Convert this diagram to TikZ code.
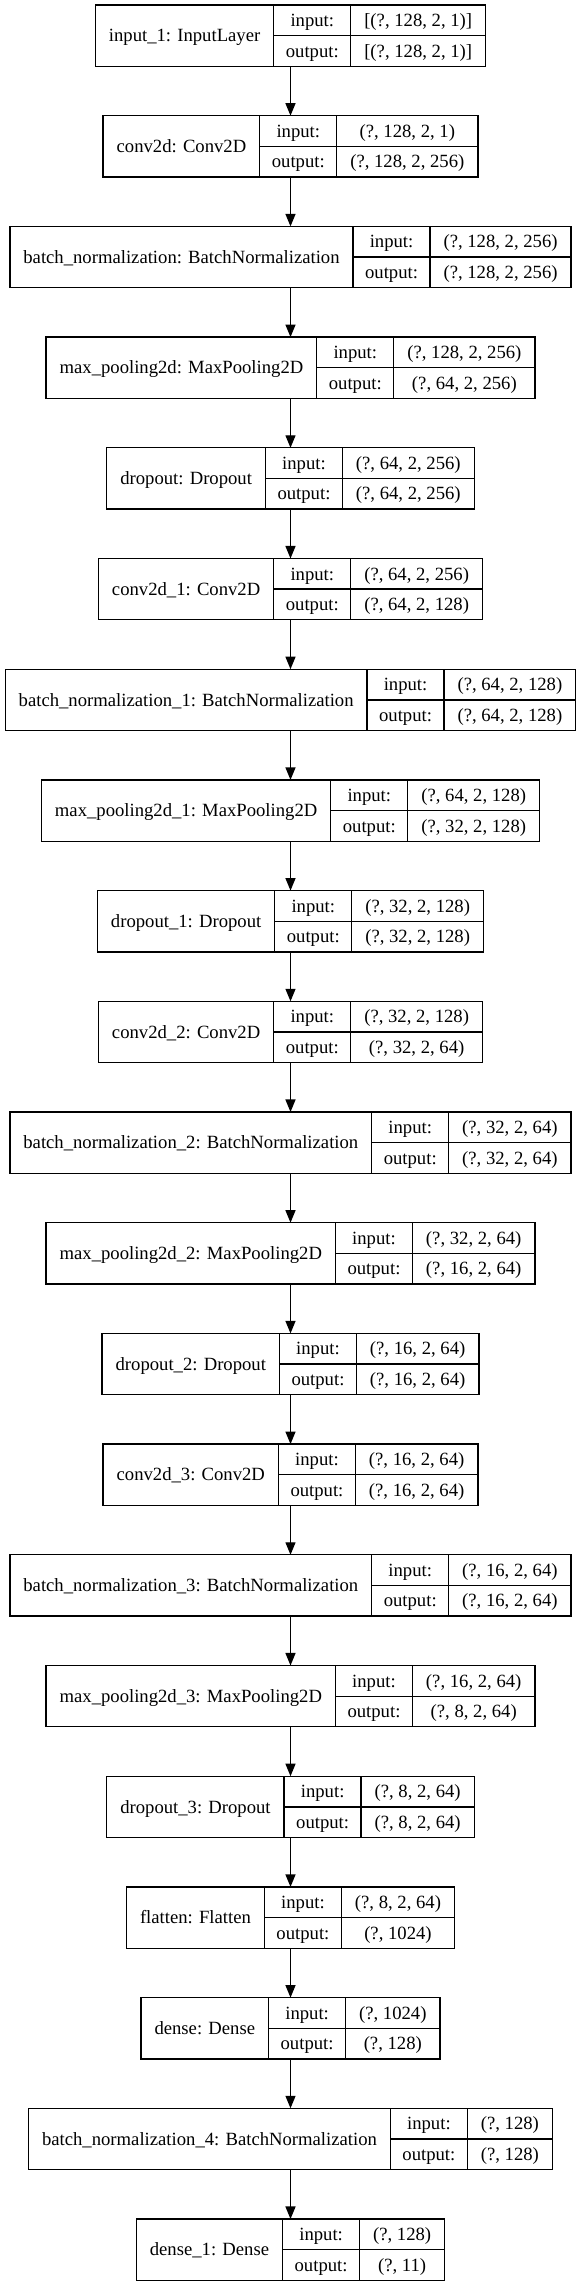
\documentclass[tikz,border=0pt]{standalone}
\usepackage{fontspec}
\setmainfont{Liberation Serif}
\usetikzlibrary{arrows.meta}
\newcommand\lyrfont{\fontsize{14pt}{17pt}\selectfont}
\tikzset{
  cell/.style={draw=black, line width=1pt, inner sep=0pt, outer sep=0pt,
    font=\lyrfont, text height=9.3pt, text depth=0pt, align=center, anchor=north west},
  flow/.style={draw=black, line width=1pt, -{Triangle[length=9.4pt,width=7.5pt]}}
}
% measuring pass (outside the picture)
\newcommand\lyrmeasure[5]{%
  \setbox0\hbox{\lyrfont #3}%
  \expandafter\xdef\csname lyr#1N\endcsname{\the\wd0}%
  \setbox0\hbox{\lyrfont #4}\setbox2\hbox{\lyrfont #5}%
  \ifdim\wd0<\wd2 \setbox0\box2 \fi
  \expandafter\xdef\csname lyr#1V\endcsname{\the\wd0}%
}
% drawing pass (inside the picture)
\newcommand\lyrdraw[5]{%
  \pgfmathsetmacro\lyrN{\csname lyr#1N\endcsname+20.25}%
  \pgfmathsetmacro\lyrV{\csname lyr#1V\endcsname+20.25}%
  \pgfmathsetmacro\lyrW{\lyrN+57.75+\lyrV}%
  \pgfmathsetmacro\lyrX{217.875-\lyrW/2}%
  \pgfmathsetmacro\lyrY{-0.75*(5+110.7*(#2-1))}%
  \node[cell, minimum width=\lyrN pt, minimum height=45.975pt] (#1-n) at (\lyrX pt,\lyrY pt) {#3};
  \node[cell, minimum width=57.75pt, minimum height=22.9875pt] (#1-il) at (#1-n.north east) {input:};
  \node[cell, minimum width=57.75pt, minimum height=22.9875pt] (#1-ol) at (#1-il.south west) {output:};
  \node[cell, minimum width=\lyrV pt, minimum height=22.9875pt] (#1-iv) at (#1-il.north east) {#4};
  \node[cell, minimum width=\lyrV pt, minimum height=22.9875pt] (#1-ov) at (#1-ol.north east) {#5};
  \coordinate (#1-top) at (217.875pt,\lyrY pt);
  \coordinate (#1-bot) at (217.875pt,\lyrY pt-45.975pt);
}
\newcommand\layerlist{%
\layer{L1}{1}{input\_1: InputLayer}{[(?, 128, 2, 1)]}{[(?, 128, 2, 1)]}%
\layer{L2}{2}{conv2d: Conv2D}{(?, 128, 2, 1)}{(?, 128, 2, 256)}%
\layer{L3}{3}{batch\_normalization: BatchNormalization}{(?, 128, 2, 256)}{(?, 128, 2, 256)}%
\layer{L4}{4}{max\_pooling2d: MaxPooling2D}{(?, 128, 2, 256)}{(?, 64, 2, 256)}%
\layer{L5}{5}{dropout: Dropout}{(?, 64, 2, 256)}{(?, 64, 2, 256)}%
\layer{L6}{6}{conv2d\_1: Conv2D}{(?, 64, 2, 256)}{(?, 64, 2, 128)}%
\layer{L7}{7}{batch\_normalization\_1: BatchNormalization}{(?, 64, 2, 128)}{(?, 64, 2, 128)}%
\layer{L8}{8}{max\_pooling2d\_1: MaxPooling2D}{(?, 64, 2, 128)}{(?, 32, 2, 128)}%
\layer{L9}{9}{dropout\_1: Dropout}{(?, 32, 2, 128)}{(?, 32, 2, 128)}%
\layer{L10}{10}{conv2d\_2: Conv2D}{(?, 32, 2, 128)}{(?, 32, 2, 64)}%
\layer{L11}{11}{batch\_normalization\_2: BatchNormalization}{(?, 32, 2, 64)}{(?, 32, 2, 64)}%
\layer{L12}{12}{max\_pooling2d\_2: MaxPooling2D}{(?, 32, 2, 64)}{(?, 16, 2, 64)}%
\layer{L13}{13}{dropout\_2: Dropout}{(?, 16, 2, 64)}{(?, 16, 2, 64)}%
\layer{L14}{14}{conv2d\_3: Conv2D}{(?, 16, 2, 64)}{(?, 16, 2, 64)}%
\layer{L15}{15}{batch\_normalization\_3: BatchNormalization}{(?, 16, 2, 64)}{(?, 16, 2, 64)}%
\layer{L16}{16}{max\_pooling2d\_3: MaxPooling2D}{(?, 16, 2, 64)}{(?, 8, 2, 64)}%
\layer{L17}{17}{dropout\_3: Dropout}{(?, 8, 2, 64)}{(?, 8, 2, 64)}%
\layer{L18}{18}{flatten: Flatten}{(?, 8, 2, 64)}{(?, 1024)}%
\layer{L19}{19}{dense: Dense}{(?, 1024)}{(?, 128)}%
\layer{L20}{20}{batch\_normalization\_4: BatchNormalization}{(?, 128)}{(?, 128)}%
\layer{L21}{21}{dense\_1: Dense}{(?, 128)}{(?, 11)}%
}
\begin{document}%
\let\layer\lyrmeasure\layerlist%
\begin{tikzpicture}
\useasboundingbox[fill=white] (0,0) rectangle (435.75pt,-1715.25pt);
\let\layer\lyrdraw
\layerlist
\foreach \a/\b in {1/2,2/3,3/4,4/5,5/6,6/7,7/8,8/9,9/10,10/11,11/12,12/13,13/14,14/15,15/16,16/17,17/18,18/19,19/20,20/21}
  \draw[flow] (L\a-bot) -- (L\b-top);
\end{tikzpicture}
\end{document}
